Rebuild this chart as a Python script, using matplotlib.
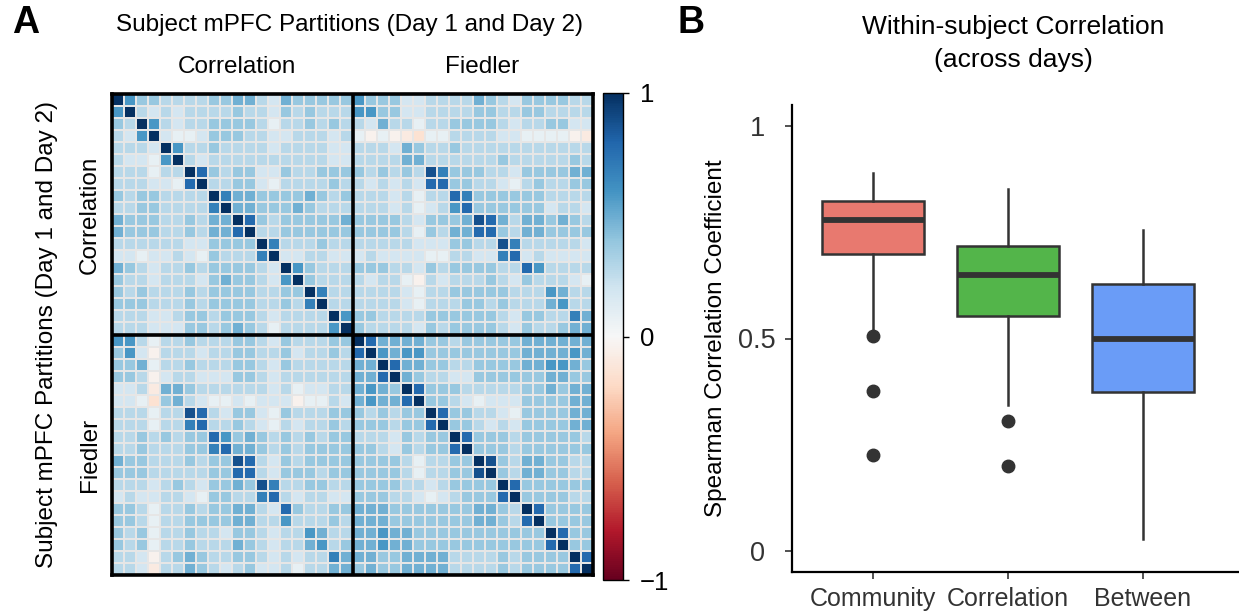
import matplotlib
matplotlib.use("Agg")
import matplotlib.pyplot as plt
import numpy as np

plt.rcParams['font.family'] = ['Liberation Sans', 'DejaVu Sans']

# Panel A: one character per cell. digits d -> d/10 + 0.08, 'X' -> 1,
# 'a'/'b'/'c' -> slightly negative (peach cells)
corr_corr_rows = [
    "X5332222334421433333",
    "5X212122223221323222",
    "32X52122333320223232",
    "215X1001333221122212",
    "2221X522322221222211",
    "21105X21222222222211",
    "222022X7323311322333",
    "2221107X223310222232",
    "32332222X64433334323",
    "223322226X4433343222",
    "4333223244X732333334",
    "43332232447X22333333",
    "222222113333X6222322",
    "1101121032226X112211",
    "43212232333321X53222",
    "322122213433215X3222",
    "3232223233332233X622",
    "33322232333322326X22",
    "222112332333212222X5",
    "2221113323432022225X",
]

# Fiedler rows x Correlation columns (the upper right block is its transpose)
fied_corr_rows = [
    "55202232223321322233",
    "351a2221223322312232",
    "33402232223321322222",
    "332a1221113321222222",
    "112b4432222221201122",
    "110c34210010111a0021",
    "22202287213310322233",
    "22202267223210212232",
    "22323233753432323233",
    "22322233674432323333",
    "43322232338721323333",
    "33322222337721333233",
    "22212321334386223322",
    "12112210332267212211",
    "33202232334421732233",
    "33202233334422522232",
    "32302232213321225422",
    "32302232224321224523",
    "221a2343223321212264",
    "221b2243212311202244",
]

fied_fied_rows = [
    "X7444433233333444444",
    "7X545533333333444454",
    "44X74433223333445543",
    "447X4322113333334433",
    "4543X733322222334344",
    "45447X33210111333344",
    "323233X7332210333344",
    "3332337X332121333344",
    "22213233X73332333332",
    "332132337X3332333333",
    "3333202233X832443322",
    "33332022338X32443322",
    "333322123333X7333333",
    "3332210123337X333322",
    "44433333334432X73333",
    "444333333344327X3333",
    "4454433333333333X733",
    "44544333333333337X33",
    "443344442222323333X7",
    "3433444422223233337X",
]

# Panel B: box statistics
groups = ["Community", "Correlation", "Between"]
box_colors = ["#E8796F", "#53B54A", "#6A9CF7"]
medians = [0.779, 0.650, 0.498]
q1 = [0.700, 0.554, 0.373]
q3 = [0.824, 0.718, 0.629]
whisker_low = [0.522, 0.343, 0.028]
whisker_high = [0.890, 0.852, 0.756]
outliers = [[0.507, 0.376, 0.225], [0.305, 0.200], []]

CODES = {'X': 1.0, 'a': -0.04, 'b': -0.09, 'c': -0.15}


def decode(rows):
    return np.array([[CODES[ch] if ch in CODES else int(ch) / 10 + 0.08
                      for ch in row] for row in rows])


cc = decode(corr_corr_rows)
fc = decode(fied_corr_rows)
ff = decode(fied_fied_rows)
matrix = np.vstack([np.hstack([cc, fc.T]), np.hstack([fc, ff])])
n = matrix.shape[0]

W, H = 1239, 615
fig = plt.figure(figsize=(W / 100, H / 100), dpi=100)


def px(x0, y0, x1, y1):
    return [x0 / W, 1 - y1 / H, (x1 - x0) / W, (y1 - y0) / H]


# ---- heatmap ----
ax = fig.add_axes(px(112, 94, 593, 575))
mesh = ax.pcolormesh(np.arange(n + 1), np.arange(n + 1), matrix, cmap='RdBu',
                     vmin=-1, vmax=1, edgecolors='#e6e6e6', linewidth=1.2)
ax.set_xlim(0, n)
ax.set_ylim(n, 0)
ax.set_xticks([])
ax.set_yticks([])
ax.axhline(n / 2, color='black', lw=2.6)
ax.axvline(n / 2, color='black', lw=2.6)
for s in ax.spines.values():
    s.set_linewidth(2.6)
    s.set_color('black')

cax = fig.add_axes(px(603, 93, 623, 580))
cb = fig.colorbar(mesh, cax=cax, ticks=[-1, 0, 1])
cb.ax.set_yticklabels(['\u22121', '0', '1'])
cb.ax.tick_params(length=4, width=1, pad=8, labelsize=18.5, colors='black')
cb.outline.set_linewidth(1)

fig.text(12 / W, 1 - 23 / H, 'A', fontsize=27, fontweight='bold', va='center')
fig.text(349 / W, 1 - 25 / H, 'Subject mPFC Partitions (Day 1 and Day 2)',
         fontsize=17.5, ha='center', va='center')
fig.text(237 / W, 1 - 67 / H, 'Correlation', fontsize=17.5, ha='center', va='center')
fig.text(482 / W, 1 - 67 / H, 'Fiedler', fontsize=17.5, ha='center', va='center')
fig.text(47 / W, 1 - 335 / H, 'Subject mPFC Partitions (Day 1 and Day 2)',
         fontsize=17.5, ha='center', va='center', rotation=90)
fig.text(90 / W, 1 - 215 / H, 'Correlation', fontsize=17.5, ha='center',
         va='center', rotation=90)
fig.text(90 / W, 1 - 455 / H, 'Fiedler', fontsize=17.5, ha='center',
         va='center', rotation=90)

# ---- boxplot ----
bx = fig.add_axes(px(792, 105, 1239, 572))
stats = []
for i, g in enumerate(groups):
    stats.append(dict(label=g, med=medians[i], q1=q1[i], q3=q3[i],
                      whislo=whisker_low[i], whishi=whisker_high[i],
                      fliers=outliers[i]))
edge = '#333333'
parts = bx.bxp(stats, positions=[1, 2, 3], widths=0.75, patch_artist=True,
               showcaps=False,
               boxprops=dict(edgecolor=edge, linewidth=1.8),
               medianprops=dict(color=edge, linewidth=4.2, solid_capstyle='butt'),
               whiskerprops=dict(color=edge, linewidth=1.8),
               flierprops=dict(marker='o', markerfacecolor=edge,
                               markeredgecolor=edge, markersize=9))
for patch, col in zip(parts['boxes'], box_colors):
    patch.set_facecolor(col)

bx.set_xlim(0.4, 0.4 + 447 / 135)
bx.set_ylim(-0.05, 1.05)
bx.set_yticks([0, 0.5, 1])
bx.set_yticklabels(['0', '0.5', '1'])
for lbl in bx.get_yticklabels():
    lbl.set_horizontalalignment('center')
bx.tick_params(axis='y', length=5, width=1.2, pad=20, labelsize=19.5,
               colors='#333333')
bx.tick_params(axis='x', length=5, width=1.2, pad=6, labelsize=18,
               colors='#333333')
bx.spines['top'].set_visible(False)
bx.spines['right'].set_visible(False)
bx.spines['left'].set_linewidth(1.6)
bx.spines['bottom'].set_linewidth(1.6)
bx.set_ylabel('Spearman Correlation Coefficient', fontsize=17.5)
bx.yaxis.set_label_coords(-0.145, 0.5)

fig.text(677 / W, 1 - 23 / H, 'B', fontsize=27, fontweight='bold', va='center')
fig.text(1013 / W, 1 - 27 / H, 'Within-subject Correlation', fontsize=19,
         ha='center', va='center')
fig.text(1013 / W, 1 - 60 / H, '(across days)', fontsize=19,
         ha='center', va='center')

fig.savefig('out.png', dpi=100)
